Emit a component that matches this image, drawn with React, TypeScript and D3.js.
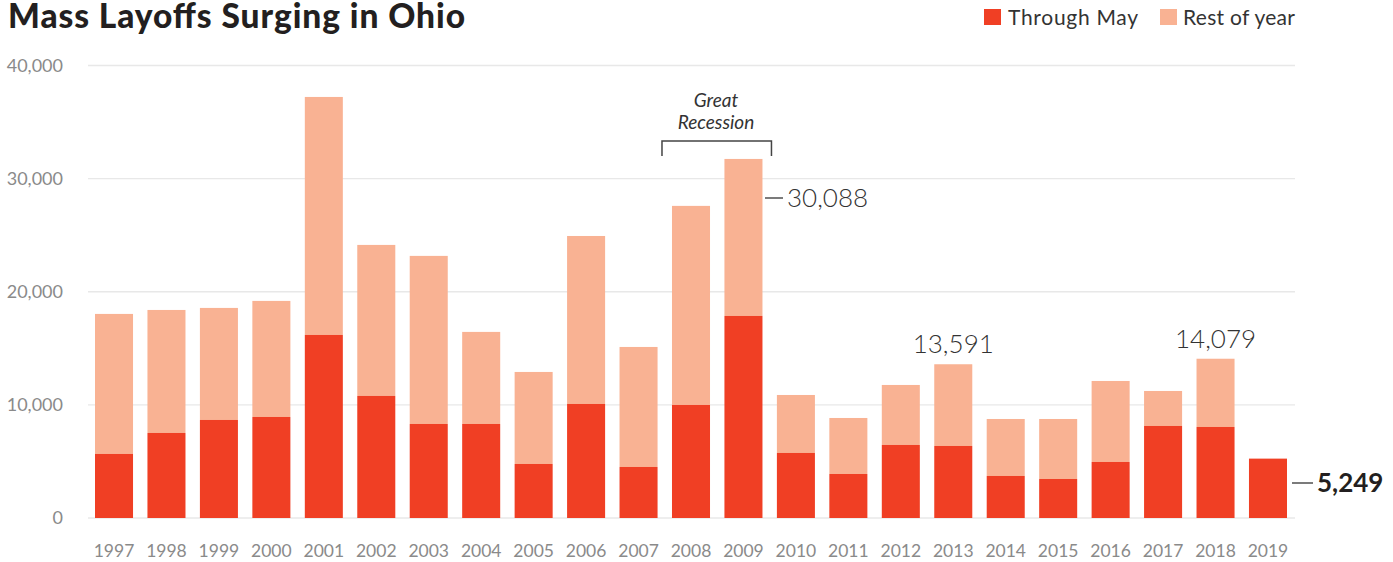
import React from "react";
import * as d3 from "d3";

// Ohio mass layoffs (WARN notices), workers affected
const years = [
  "1997", "1998", "1999", "2000", "2001", "2002", "2003", "2004", "2005", "2006", "2007", "2008",
  "2009", "2010", "2011", "2012", "2013", "2014", "2015", "2016", "2017", "2018", "2019",
];
const throughMay = [
  5660, 7515, 8665, 8930, 16180, 10790, 8310, 8310, 4775, 10080, 4510, 9990,
  17860, 5750, 3890, 6455, 6366, 3714, 3448, 4951, 8134, 8046, 5249,
];
const totals = [
  18040, 18390, 18570, 19190, 37220, 24140, 23170, 16450, 12910, 24930, 15120, 27590,
  31740, 10875, 8842, 11760, 13591, 8753, 8753, 12113, 11229, 14079, 5249,
];
const yTicks = [0, 10000, 20000, 30000, 40000];

const RED = "#F03F24";
const LIGHT = "#F9B293";
const FONT = "Lato, 'Open Sans', sans-serif";

export default function App() {
  const width = 1393;
  const height = 562;

  const x = d3.scaleBand<string>().domain(years).range([95, 1287]).paddingInner(0.275).paddingOuter(0);
  const y = d3.scaleLinear().domain([0, 40000]).range([518, 65.5]);
  const fmt = d3.format(",");

  const rows = years.map((yr, i) => ({ yr, may: throughMay[i], total: totals[i] }));
  const cx = (yr: string) => (x(yr) ?? 0) + x.bandwidth() / 2;

  return (
    <svg width={width} height={height} style={{ position: "absolute", left: 0, top: 0 }} fontFamily={FONT}>
      <text x={8} y={28} fontSize={33.5} fontWeight={900} fill="#231f20" textLength={457} lengthAdjust="spacing">
        Mass Layoffs Surging in Ohio
      </text>

      {/* legend */}
      <rect x={984} y={9} width={17} height={16} fill={RED} />
      <text x={1008} y={25} fontSize={21} fill="#333" textLength={130} lengthAdjust="spacing">Through May</text>
      <rect x={1160} y={9} width={17} height={16} fill={LIGHT} />
      <text x={1183} y={25} fontSize={21} fill="#333" textLength={112} lengthAdjust="spacing">Rest of year</text>

      {/* grid + y axis */}
      {yTicks.map((t) => (
        <g key={t}>
          <line x1={88} x2={1295} y1={y(t)} y2={y(t)} stroke="#e8e8e8" strokeWidth={1.3} />
          <text x={63} y={y(t)} dy="0.35em" textAnchor="end" fontSize={18} fill="#8a8a8a">
            {t === 0 ? "0" : fmt(t)}
          </text>
        </g>
      ))}

      {/* bars */}
      {rows.map((d) => (
        <g key={d.yr}>
          {d.total > d.may && (
            <rect x={x(d.yr)} y={y(d.total)} width={x.bandwidth()} height={y(d.may) - y(d.total)} fill={LIGHT} />
          )}
          <rect x={x(d.yr)} y={y(d.may)} width={x.bandwidth()} height={y(0) - y(d.may)} fill={RED} />
          <text x={cx(d.yr)} y={557} textAnchor="middle" fontSize={17.5} fill="#8a8a8a">
            {d.yr}
          </text>
        </g>
      ))}

      {/* Great Recession bracket */}
      <text x={716} y={107} textAnchor="middle" fontSize={19} fontStyle="italic" fill="#333">Great</text>
      <text x={716} y={129} textAnchor="middle" fontSize={19} fontStyle="italic" fill="#333">Recession</text>
      <path
        d={`M${(x("2008") ?? 0) - 10},156V141H${(x("2009") ?? 0) + x.bandwidth() + 9}V156`}
        fill="none"
        stroke="#444"
        strokeWidth={1.5}
      />

      {/* value callouts */}
      <line x1={765} x2={783} y1={198} y2={198} stroke="#333" strokeWidth={1.3} />
      <text x={787} y={198} dy="0.35em" fontSize={26} fontWeight={300} fill="#333">30,088</text>

      <text x={cx("2013")} y={y(totals[16]) - 11} textAnchor="middle" fontSize={26} fontWeight={300} fill="#333">
        {fmt(totals[16])}
      </text>
      <text x={cx("2018")} y={y(totals[21]) - 11} textAnchor="middle" fontSize={26} fontWeight={300} fill="#333">
        {fmt(totals[21])}
      </text>

      <line x1={1292} x2={1313} y1={483} y2={483} stroke="#333" strokeWidth={1.3} />
      <text x={1317} y={483} dy="0.35em" fontSize={26} fontWeight={700} fill="#231f20">
        {fmt(throughMay[22])}
      </text>
    </svg>
  );
}
